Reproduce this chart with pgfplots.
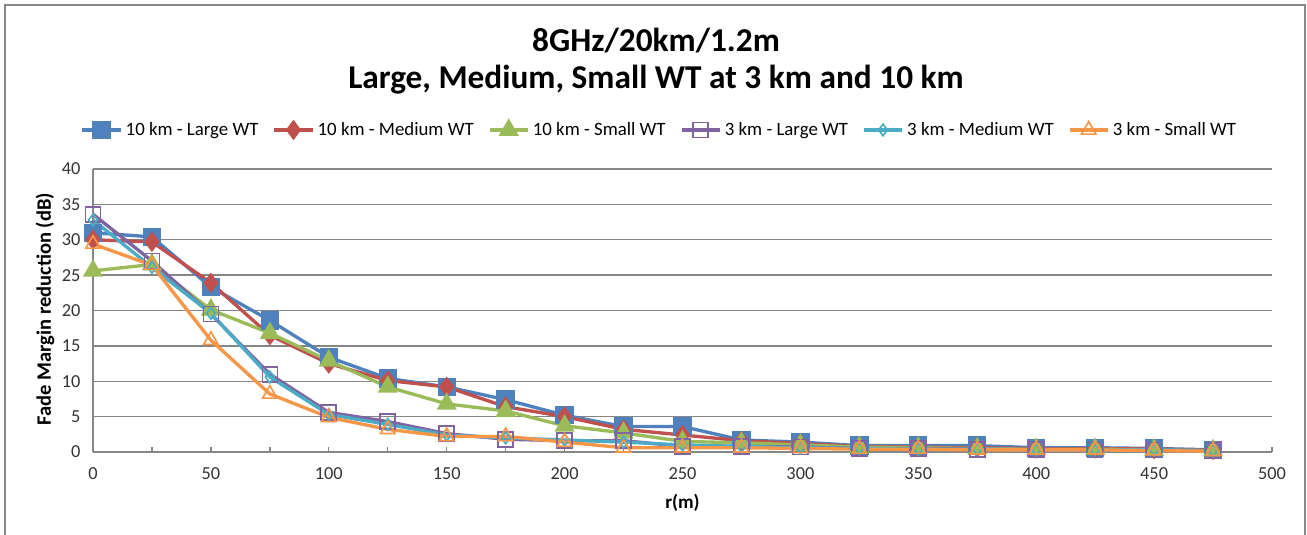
\documentclass[border=0pt]{standalone}
\usepackage{fontspec}
\setmainfont{Carlito}
\usepackage{pgfplots}
\pgfplotsset{compat=1.18}
\usepackage{pgfplotstable}

\definecolor{cBlue}{HTML}{4F81BD}
\definecolor{cRed}{HTML}{C0504D}
\definecolor{cGreen}{HTML}{9BBB59}
\definecolor{cPurple}{HTML}{8064A2}
\definecolor{cCyan}{HTML}{4BACC6}
\definecolor{cOrange}{HTML}{F79646}
\definecolor{cGrid}{HTML}{868686}

% r(m)  L10  M10  S10  L3  M3  S3
\pgfplotstableread{
r   Ltenk Mtenk Stenk Lthree Mthree Sthree
0   31.0  30.0  25.6  33.6  32.8  29.4
25  30.4  29.7  26.5  27.0  26.1  26.4
50  23.3  23.9  20.1  19.5  19.6  15.8
75  18.6  16.5  16.8  11.0  10.6  8.2
100 13.4  12.5  12.9  5.6   5.3   4.9
125 10.4  10.1  9.2   4.3   3.9   3.2
150 9.2   9.2   6.8   2.6   2.4   2.2
175 7.4   6.4   5.8   1.8   2.0   2.2
200 5.2   5.0   3.7   1.6   1.7   1.4
225 3.6   3.2   2.7   1.6   1.4   0.6
250 3.6   2.4   1.5   0.8   1.0   0.6
275 1.7   1.6   1.3   0.8   0.8   0.6
300 1.4   1.2   1.0   0.7   0.6   0.5
325 0.9   0.8   0.7   0.5   0.5   0.4
350 0.9   0.7   0.6   0.5   0.4   0.4
375 0.9   0.6   0.5   0.4   0.4   0.3
400 0.6   0.5   0.4   0.4   0.3   0.3
425 0.6   0.5   0.4   0.3   0.3   0.3
450 0.5   0.4   0.3   0.3   0.3   0.2
475 0.3   0.3   0.2   0.2   0.2   0.1
}\fadedata

\begin{document}
\begin{tikzpicture}
\useasboundingbox (-55.8pt,-49.8pt) rectangle (728.4pt,271.2pt);
\draw[cGrid, line width=1.2pt] (-52.8pt,-52pt) -- (-52.8pt,268.2pt) -- (727.2pt,268.2pt) -- (727.2pt,-52pt);
\begin{axis}[
  at={(0pt,0pt)}, anchor=origin,
  scale only axis,
  width=707.4pt, height=169.8pt,
  xmin=0, xmax=500, ymin=0, ymax=40,
  xtick={0,50,...,500},
  minor xtick={25,75,...,475},
  ytick={0,5,...,40},
  axis x line*=bottom,
  axis y line*=left,
  axis line style={cGrid, line width=0.8pt, -},
  ymajorgrids,
  grid style={cGrid, line width=0.8pt},
  tick align=inside,
  major tick length=3pt, minor tick length=3pt,
  xtick style={cGrid, line width=0.8pt},
  minor tick style={cGrid, line width=0.8pt},
  ytick style={draw=none},
  /pgf/number format/assume math mode=true,
  ticklabel style={font=\fontsize{11}{13}\selectfont, text=black!80},
  xticklabel style={yshift=-6pt},
  yticklabel style={xshift=-4pt},
  xlabel={r(m)},
  ylabel={Fade Margin reduction (dB)},
  xlabel style={font=\fontsize{11.5}{13}\selectfont\bfseries, at={(rel axis cs:0.5,-0.18)}, anchor=center},
  ylabel style={font=\fontsize{12.3}{14}\selectfont\bfseries, at={(rel axis cs:-0.0407,0.505)}, anchor=center},
  legend columns=6,
  legend style={draw=none, fill=none, at={(rel axis cs:0.481,1.138)}, anchor=center,
    font=\fontsize{11.3}{13}\selectfont,
    /tikz/every odd column/.append style={column sep=0pt},
    /tikz/every even column/.append style={column sep=6.5pt}},
  legend cell align=left,
  legend image code/.code={\draw[mark repeat=2, mark phase=2] plot coordinates {(0pt,0pt) (11.5pt,0pt) (23pt,0pt)};},
  every axis plot/.append style={line width=2pt},
  clip=false,
]
\addplot[cBlue, mark=square*, mark size=4.5pt, mark options={solid, fill=cBlue}] table[x=r, y=Ltenk] {\fadedata};
\addlegendentry{10 km - Large WT}
\addplot[cRed, mark=diamond*, mark size=4.5pt, mark options={solid, fill=cRed}] table[x=r, y=Mtenk] {\fadedata};
\addlegendentry{10 km - Medium WT}
\addplot[cGreen, mark=triangle*, mark size=5pt, mark options={solid, fill=cGreen}] table[x=r, y=Stenk] {\fadedata};
\addlegendentry{10 km - Small WT}
\addplot[cPurple, mark=square, mark size=4.5pt, mark options={solid, fill=white, line width=1pt}] table[x=r, y=Lthree] {\fadedata};
\addlegendentry{3 km - Large WT}
\addplot[cCyan, mark=diamond, mark size=3.5pt, mark options={solid, fill=white, line width=1pt}] table[x=r, y=Mthree] {\fadedata};
\addlegendentry{3 km - Medium WT}
\addplot[cOrange, mark=triangle, mark size=5pt, mark options={solid, fill=white, line width=1pt}] table[x=r, y=Sthree] {\fadedata};
\addlegendentry{3 km - Small WT}
\end{axis}
\node[font=\fontsize{20}{22.2}\selectfont\bfseries, align=center] at (337.8pt,234.3pt)
  {8GHz/20km/1.2m\\Large, Medium, Small WT at 3 km and 10 km};
\end{tikzpicture}
\end{document}
